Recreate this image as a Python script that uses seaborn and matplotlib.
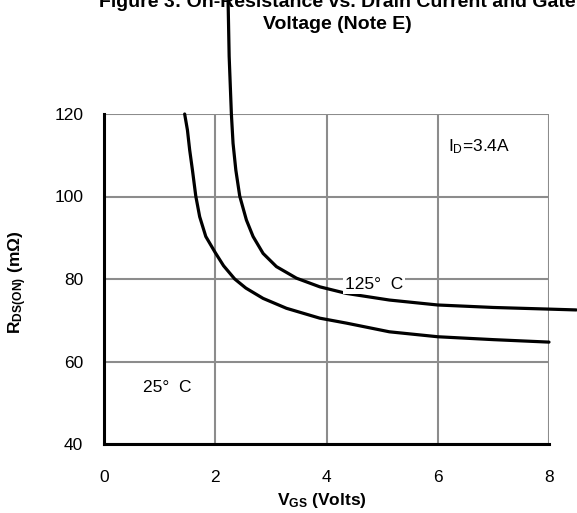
import matplotlib
matplotlib.use("Agg")
import matplotlib.pyplot as plt
import seaborn as sns
import pandas as pd

# ---- data ----
vgs_25 = [1.45, 1.50, 1.54, 1.59, 1.65, 1.72, 1.83, 2.00, 2.15, 2.35, 2.55,
          2.86, 3.28, 3.88, 4.36, 5.13, 6.0, 7.0, 8.0]
rds_25 = [120.0, 116.1, 111.3, 106.4, 100.1, 95.1, 90.3, 86.4, 83.2, 80.0, 77.8,
          75.3, 72.9, 70.5, 69.3, 67.2, 66.0, 65.3, 64.7]

vgs_125 = [2.23, 2.25, 2.29, 2.32, 2.37, 2.44, 2.56, 2.68, 2.86, 3.10, 3.46,
           3.88, 4.36, 5.13, 6.0, 7.0, 8.0, 8.49]
rds_125 = [148.0, 134.0, 120.0, 112.9, 106.4, 100.1, 94.3, 90.3, 86.2, 83.0, 80.2,
           78.1, 76.5, 74.9, 73.7, 73.1, 72.7, 72.5]

x_ticks = [0, 2, 4, 6, 8]
y_ticks = [40, 60, 80, 100, 120]

title_line1 = "Figure 3: On-Resistance vs. Drain Current and Gate"
title_line2 = "Voltage (Note E)"

df = pd.concat([
    pd.DataFrame({"Vgs": vgs_25, "Rds": rds_25, "T": "25C"}),
    pd.DataFrame({"Vgs": vgs_125, "Rds": rds_125, "T": "125C"}),
], ignore_index=True)

sns.set_theme(style="white")
plt.rcParams["font.family"] = ["Liberation Sans", "DejaVu Sans"]
plt.rcParams["mathtext.fontset"] = "custom"
plt.rcParams["mathtext.rm"] = "Liberation Sans"
plt.rcParams["mathtext.bf"] = "Liberation Sans:bold"
plt.rcParams["mathtext.it"] = "Liberation Sans:italic"
plt.rcParams["text.color"] = "black"
plt.rcParams["axes.labelcolor"] = "black"

W, H = 577, 513
fig = plt.figure(figsize=(W / 100, H / 100), dpi=100)
ax = fig.add_axes([104 / W, 1 - 444 / H, (549 - 104) / W, (444 - 114) / H])

for t in ["25C", "125C"]:
    sub = df[df["T"] == t]
    sns.lineplot(data=sub, x="Vgs", y="Rds", ax=ax, color="black", lw=2.3,
                 estimator=None, sort=False, clip_on=False, zorder=4,
                 legend=False)

ax.set_xlim(0, 8)
ax.set_ylim(40, 120)
ax.set_xticks(x_ticks)
ax.set_yticks(y_ticks)
ax.tick_params(axis="both", length=0, labelsize=12.5, colors="black")
ax.tick_params(axis="x", pad=19)
ax.tick_params(axis="y", pad=15)
ax.grid(True, color="#8c8c8c", lw=1.5)
ax.set_axisbelow(True)

for s in ["top", "right"]:
    ax.spines[s].set_visible(False)
for s in ["left", "bottom"]:
    ax.spines[s].set_color("black")
    ax.spines[s].set_linewidth(2.2)
    ax.spines[s].set_zorder(5)

ax.set_xlabel(r"$\mathbf{V_{GS}}$ (Volts)", fontsize=12.5, fontweight="bold", va="center")
ax.set_ylabel(r"$\mathbf{R_{DS(ON)}}$ (m$\mathbf{\Omega}$)", fontsize=12.5,
              fontweight="bold", va="center")
ax.xaxis.set_label_coords(0.49, -0.17)
ax.yaxis.set_label_coords(-0.195, 0.49)

ax.text(4.33, 78.6, "125°  C", fontsize=12.5, ha="left", va="center", zorder=6,
        bbox=dict(facecolor="white", edgecolor="none", pad=1.5))
ax.text(0.70, 53.6, "25°  C", fontsize=12.5, ha="left", va="center")
ax.text(6.18, 112.2, r"I$_\mathrm{D}$=3.4A", fontsize=12.5, ha="left", va="center")

fig.text(337 / W, 1 - 7 / H, title_line1, ha="center", va="baseline",
         fontsize=14, fontweight="bold")
fig.text(337 / W, 1 - 29 / H, title_line2, ha="center", va="baseline",
         fontsize=14, fontweight="bold")

fig.savefig("out.png", dpi=100)
